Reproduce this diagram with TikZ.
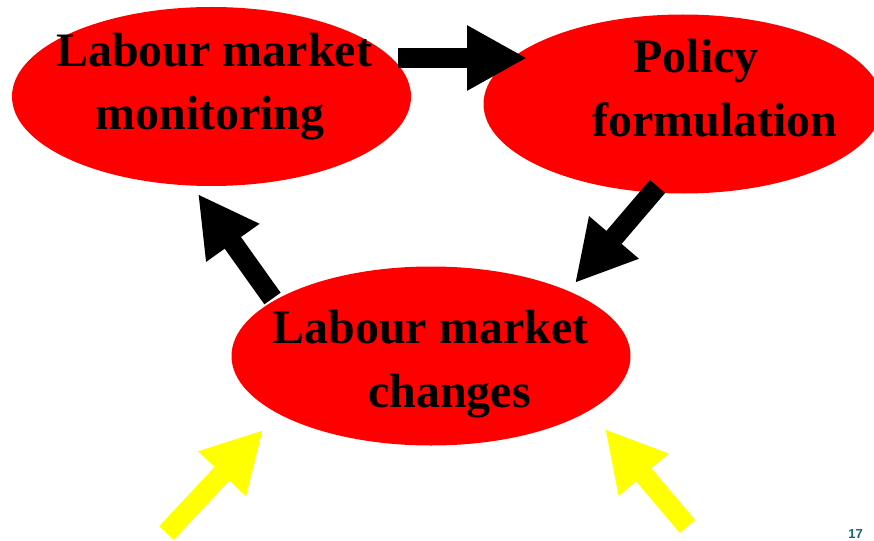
\documentclass[tikz,border=0pt]{standalone}
\usepackage{fontspec}
\setmainfont{Liberation Serif}
\newfontfamily\pagenumfont{Liberation Sans}
\usetikzlibrary{shapes.geometric,arrows.meta}
\definecolor{pagenum}{RGB}{24,98,120}
\definecolor{brightyellow}{RGB}{255,255,0}
\tikzset{
  bubble/.style={ellipse, fill=red, inner sep=0pt, minimum width=399pt, minimum height=179pt},
  words/.style={anchor=base, inner sep=0pt, font=\fontsize{48}{64}\selectfont\bfseries},
  blockarrow/.style={line width=20pt, -{Triangle[width=61pt,length=60pt]}},
}
\begin{document}
\begin{tikzpicture}[x=1pt,y=-1pt]
\useasboundingbox (0,0) rectangle (874,540);

% the three stages of the cycle
\node[bubble] (monitor) at (211.5,96.5) {};
\node[bubble] (policy)  at (683,104) {};
\node[bubble] (changes) at (431,356) {};

\node[words] (monitorA) at (214,67)  {Labour market};
\node[words] (monitorB) at (210,130) {monitoring};
\node[words] (policyA)  at (696,73)  {Policy};
\node[words] (policyB)  at (715,137) {formulation};
\node[words] (changesA) at (430.5,343) {Labour market};
\node[words] (changesB) at (449.5,407) {changes};

% end points of the block arrows
\coordinate (a1s) at (398,58);
\coordinate (a1e) at (527,58);
\coordinate (a2s) at (657.5,186.5);
\coordinate (a2e) at (575,283);
\coordinate (a3s) at (272.5,298.5);
\coordinate (a3e) at (198,194);
\coordinate (y1s) at (166.5,533);
\coordinate (y1e) at (263,430);
\coordinate (y2s) at (687.5,526.5);
\coordinate (y2e) at (605,429);

% cycle arrows
\draw[blockarrow, black] (a1s) -- (a1e);
\draw[blockarrow, black] (a2s) -- (a2e);
\draw[blockarrow, black] (a3s) -- (a3e);

% outside influences
\draw[blockarrow, brightyellow] (y1s) -- (y1e);
\draw[blockarrow, brightyellow] (y2s) -- (y2e);

% page number
\node[anchor=base east, inner sep=0pt, text=pagenum, font=\pagenumfont\fontsize{13}{15}\selectfont\bfseries] (pagenum) at (863,538.5) {17};
\end{tikzpicture}
\end{document}
